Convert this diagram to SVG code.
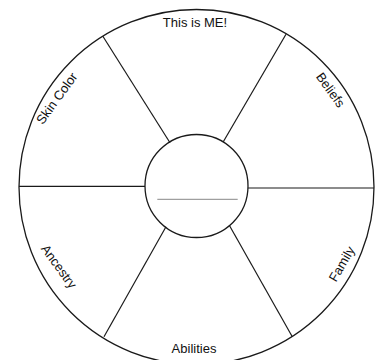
<svg xmlns="http://www.w3.org/2000/svg" width="377" height="360" viewBox="0 0 377 360">
<style>
.ring{fill:none;stroke:#1a1a1a;stroke-width:1.3}
.spoke{stroke:#1a1a1a;stroke-width:1.2;fill:none}
.lbl{font-family:"Liberation Sans",Arial,sans-serif;font-size:13px;fill:#111;text-anchor:middle}
</style>
<rect width="377" height="360" fill="#fff"/>
<g id="outer-wheel">
<circle class="ring" cx="196.5" cy="187" r="177.5"/>
</g>
<g id="connectors">
<line class="spoke" x1="102.7" y1="36" x2="170" y2="142.7"/>
<line class="spoke" x1="286" y1="34.3" x2="223.3" y2="141.7"/>
<line class="spoke" x1="166" y1="226.7" x2="104" y2="336.7"/>
<line class="spoke" x1="229.3" y1="225.3" x2="292.3" y2="336.7"/>
<line class="spoke" x1="19" y1="186.3" x2="145" y2="186.3"/>
<line class="spoke" x1="248" y1="188" x2="374" y2="188"/>
</g>
<g id="center">
<circle class="ring" cx="196.5" cy="186" r="51.5" fill="#fff"/>
<line x1="157.3" y1="199.3" x2="237.7" y2="199.3" stroke="#888" stroke-width="1"/>
</g>
<g id="label-me"><text class="lbl" x="195" y="27">This is ME!</text></g>
<g id="label-abilities"><text class="lbl" x="194" y="353">Abilities</text></g>
<g id="label-skin"><text class="lbl" transform="translate(56.7,98.3) rotate(-54)" y="4.5">Skin Color</text></g>
<g id="label-beliefs"><text class="lbl" transform="translate(330.5,90) rotate(54)" y="4.5">Beliefs</text></g>
<g id="label-ancestry"><text class="lbl" transform="translate(59,266.5) rotate(54)" y="4.5">Ancestry</text></g>
<g id="label-family"><text class="lbl" transform="translate(341.7,264) rotate(-60)" y="4.5">Family</text></g>
</svg>
